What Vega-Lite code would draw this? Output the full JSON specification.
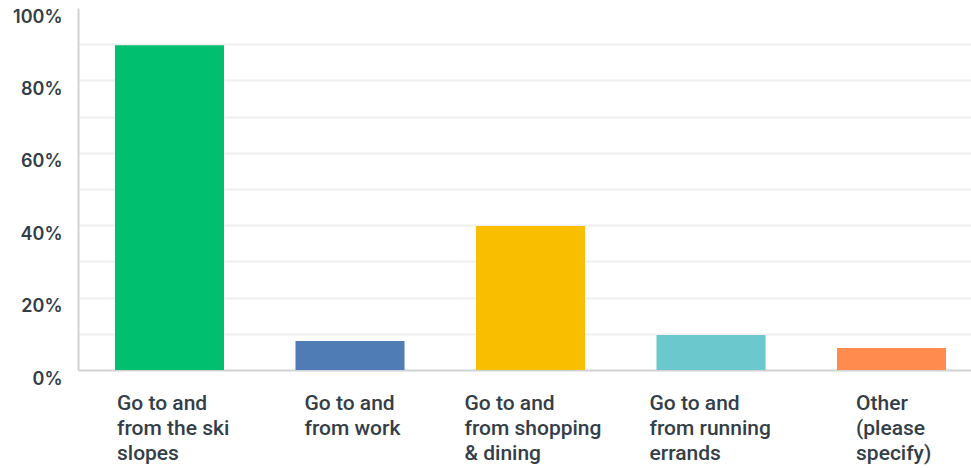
{
  "$schema": "https://vega.github.io/schema/vega-lite/v6.json",
  "width": 893,
  "height": 362,
  "autosize": {"type": "none"},
  "padding": {"left": 78, "top": 8, "right": 0, "bottom": 98},
  "background": "white",
  "config": {"view": {"stroke": null}},
  "data": {
    "values": [
      {"answer": "Go to and from the ski slopes", "pct": 89.7},
      {"answer": "Go to and from work", "pct": 8.0},
      {"answer": "Go to and from shopping & dining", "pct": 39.8},
      {"answer": "Go to and from running errands", "pct": 9.7},
      {"answer": "Other (please specify)", "pct": 6.1}
    ]
  },
  "mark": {"type": "bar"},
  "encoding": {
    "x": {
      "field": "answer",
      "type": "nominal",
      "sort": null,
      "scale": {"paddingInner": 0.396, "paddingOuter": 0.1716, "align": 0.597},
      "axis": {
        "title": null,
        "labelAngle": 0,
        "ticks": false,
        "domainColor": "#d0d2d3",
        "domainWidth": 2,
        "labelFont": "Roboto",
        "labelFontSize": 21,
        "labelFontWeight": 500,
        "labelColor": "#333e48",
        "labelAlign": "left",
        "labelBaseline": "top",
        "labelPadding": 22,
        "labelLineHeight": 25,
        "labelLimit": 0,
        "labelOverlap": false,
        "labelExpr": "datum.value == 'Go to and from the ski slopes' ? ['Go to and', 'from the ski', 'slopes'] : datum.value == 'Go to and from work' ? ['Go to and', 'from work'] : datum.value == 'Go to and from shopping & dining' ? ['Go to and', 'from shopping', '& dining'] : datum.value == 'Go to and from running errands' ? ['Go to and', 'from running', 'errands'] : ['Other', '(please', 'specify)']",
        "labelOffset": {"expr": "datum.value == 'Go to and from the ski slopes' ? -52.5 : datum.value == 'Go to and from work' ? -45.5 : datum.value == 'Go to and from shopping & dining' ? -66 : datum.value == 'Go to and from running errands' ? -61.5 : -35.5"}
      }
    },
    "y": {
      "field": "pct",
      "type": "quantitative",
      "scale": {"domain": [0, 100], "nice": false},
      "axis": {
        "title": null,
        "values": [0, 10, 20, 30, 40, 50, 60, 70, 80, 90, 100],
        "labelExpr": "datum.value % 20 == 0 ? datum.value + '%' : ''",
        "ticks": false,
        "domainColor": "#d0d2d3",
        "domainWidth": 2,
        "gridColor": {"condition": {"test": "datum.value == 100 || datum.value == 0", "value": "transparent"}, "value": "#efefef"},
        "gridWidth": 2,
        "labelFont": "Inter",
        "labelFontSize": 18,
        "labelFontWeight": 600,
        "labelColor": "#333e48",
        "labelBaseline": "top",
        "labelPadding": 16,
        "labelFlush": false,
        "labelOverlap": false
      }
    },
    "color": {
      "field": "answer",
      "type": "nominal",
      "sort": null,
      "scale": {"range": ["#00bf6f", "#507cb6", "#f9be00", "#6bc8cd", "#ff8b4f"]},
      "legend": null
    }
  }
}
